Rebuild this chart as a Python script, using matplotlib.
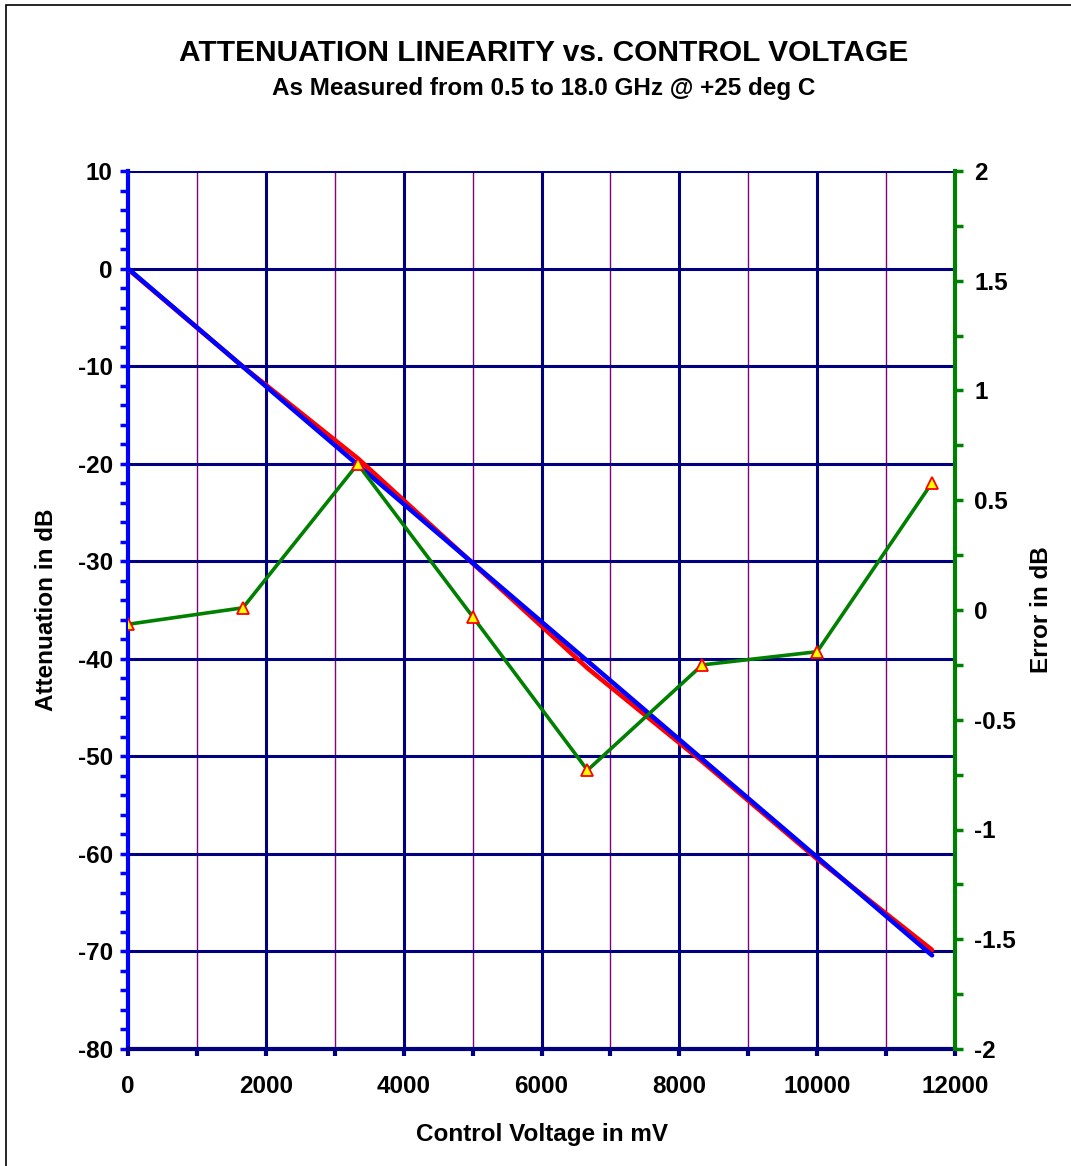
import matplotlib.pyplot as plt
from matplotlib.ticker import MultipleLocator
from matplotlib.patches import Rectangle

plt.rcParams['font.family'] = ['Liberation Sans', 'DejaVu Sans']
plt.rcParams['font.weight'] = 'bold'
plt.rcParams['axes.unicode_minus'] = False

# data
control_mv = [0, 1667, 3333, 5000, 6667, 8333, 10000, 11667]
measured_db = [-0.06, -10.05, -19.45, -30.20, -40.96, -50.54, -60.53, -69.85]
fit_db = [0.0, -10.06, -20.11, -30.17, -40.23, -50.29, -60.34, -70.40]
error_db = [-0.065, 0.01, 0.665, -0.03, -0.73, -0.25, -0.19, 0.58]

W, H = 1071, 1166
fig = plt.figure(figsize=(W / 100, H / 100), dpi=100)
fig.patches.append(Rectangle((6 / W, -0.1), 1.2, 1 - 5 / H + 0.1, transform=fig.transFigure,
                             fill=False, edgecolor='black', lw=1.2))

ax = fig.add_axes([128 / W, 1 - 1049 / H, (955 - 128) / W, (1049 - 171) / H])
ax2 = ax.twinx()

navy = '#000080'
purple = '#800080'

ax.set_xlim(0, 12000)
ax.set_ylim(-80, 10)
ax2.set_ylim(-2, 2)

# grid
for xv in range(1000, 12000, 2000):
    ax.axvline(xv, color=purple, lw=1.0, zorder=1)
for xv in range(2000, 12000, 2000):
    ax.axvline(xv, color=navy, lw=2.2, zorder=1)
for yv in range(-70, 11, 10):
    ax.axhline(yv, color=navy, lw=2.2, zorder=1)

ax.plot(control_mv, measured_db, color='#ff0000', lw=3.3, zorder=3, solid_capstyle='round')
ax.plot(control_mv, fit_db, color='#0000ff', lw=3.3, zorder=4, solid_capstyle='round')
ax2.plot(control_mv, error_db, color='#008000', lw=2.6, zorder=5,
         marker='^', markersize=8, markerfacecolor='#ffff00', markeredgecolor='#ff0000',
         markeredgewidth=1.3)

# spines
ax.spines['top'].set_visible(False)
ax2.spines['top'].set_visible(False)
ax.spines['left'].set_color('#0000ff')
ax.spines['left'].set_linewidth(3)
ax.spines['bottom'].set_color(navy)
ax.spines['bottom'].set_linewidth(3)
ax.spines['right'].set_visible(False)
ax2.spines['left'].set_visible(False)
ax2.spines['bottom'].set_visible(False)
ax2.spines['right'].set_color('#008000')
ax2.spines['right'].set_linewidth(3)

# ticks
ax.xaxis.set_major_locator(MultipleLocator(2000))
ax.xaxis.set_minor_locator(MultipleLocator(1000))
ax.yaxis.set_major_locator(MultipleLocator(10))
ax.yaxis.set_minor_locator(MultipleLocator(2))
ax2.yaxis.set_minor_locator(MultipleLocator(0.25))

ax.tick_params(axis='x', which='both', direction='out', length=5, width=3, color=navy,
               labelsize=17.5, pad=14)
ax.tick_params(axis='y', which='both', direction='out', length=6, width=2.5, color='#0000ff',
               labelsize=17.5, pad=5)
ax2.tick_params(axis='y', which='both', direction='out', length=6, width=2.5, color='#008000',
                labelsize=17.5, pad=8)

ax2.set_yticks([-2, -1.5, -1, -0.5, 0, 0.5, 1, 1.5, 2])
ax2.set_yticklabels(['-2', '-1.5', '-1', '-0.5', '0', '0.5', '1', '1.5', '2'])
for lab in ax.get_xticklabels() + ax.get_yticklabels() + ax2.get_yticklabels():
    lab.set_fontweight('bold')

ax.set_xlabel('Control Voltage in mV', fontsize=17.5, fontweight='bold', labelpad=18)
ax.set_ylabel('Attenuation in dB', fontsize=17.5, fontweight='bold', labelpad=14)
ax2.set_ylabel('Error in dB', fontsize=17.5, fontweight='bold', labelpad=10)

fig.text(544 / W, 1 - 53 / H, 'ATTENUATION LINEARITY vs. CONTROL VOLTAGE',
         ha='center', va='center', fontsize=21.5, fontweight='bold')
fig.text(544 / W, 1 - 88 / H, 'As Measured from 0.5 to 18.0 GHz @ +25 deg C',
         ha='center', va='center', fontsize=17.5, fontweight='bold')

fig.savefig('out.png', dpi=100)
